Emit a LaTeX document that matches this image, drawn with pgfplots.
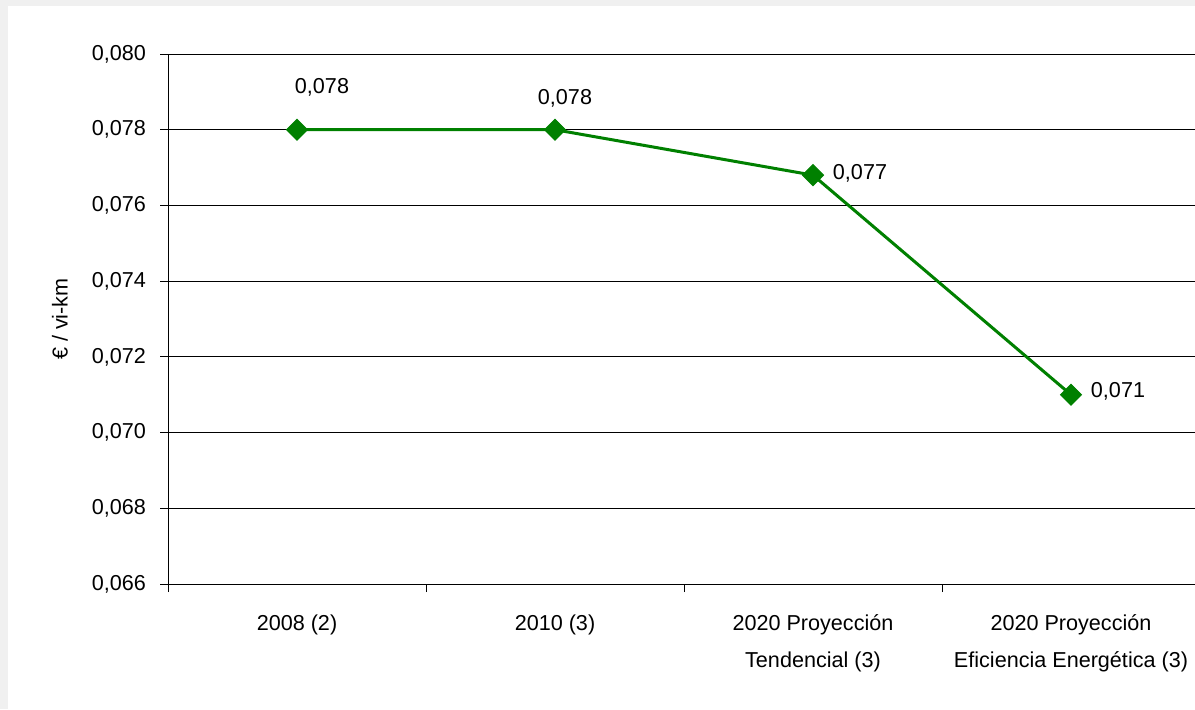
\documentclass[border=0pt]{standalone}
\usepackage{pgfplots}
\pgfplotsset{compat=1.18}
\usepackage{pgfplotstable}
\usepackage{fontspec}
\setmainfont{Liberation Sans}
\definecolor{serie}{RGB}{0,128,0}
\definecolor{marco}{RGB}{240,240,240}

\pgfplotstableread{
x y lab dx dy
1 0.0780 0,078 12.5 21
2 0.0780 0,078 5 15.5
3 0.0768 0,077 23.5 1
4 0.0710 0,071 23.5 1.5
}\costes

\begin{document}
\begin{tikzpicture}[font=\fontsize{10.8pt}{13pt}\selectfont]
    \fill[marco] (0,0) rectangle (597.5pt,354.5pt);
    \fill[white] (4pt,0) rectangle (597.5pt,351.5pt);
    \begin{axis}[
        at={(84pt,62.5pt)},
        anchor=south west,
        scale only axis,
        width=516pt,
        height=265pt,
        xmin=0.5, xmax=4.5,
        ymin=0.066, ymax=0.080,
        ytick={0.066,0.068,...,0.0801},
        xtick={0.5,1.5,...,4.5},
        xticklabels={},
        extra x ticks={1,2,3,4},
        extra x tick labels={
            2008 (2),
            2010 (3),
            2020 Proyección\\Tendencial (3),
            2020 Proyección\\Eficiencia Energética (3)
        },
        extra x tick style={major tick length=0pt},
        xticklabel style={align=center, font=\fontsize{10.8pt}{18.5pt}\selectfont, yshift=-12pt},
        yticklabel style={xshift=-3.5pt},
        ymajorgrids,
        grid style={black, line width=0.5pt},
        axis line style={black, line width=0.5pt},
        tick style={black, line width=0.5pt},
        major tick length=4pt,
        tick align=outside,
        axis x line*=bottom,
        axis y line*=left,
        /pgf/number format/.cd, use comma, fixed, fixed zerofill, precision=3, assume math mode=true,
        /pgfplots/.cd,
        scaled y ticks=false,
        ylabel={€ / vi-km},
        every axis y label/.style={at={(axis description cs:0,0.5)}, xshift=-54pt, rotate=90, anchor=center},
        clip=false,
    ]
        \addplot[
            serie, line width=1.5pt,
            mark=square*, mark size=3.7pt,
            mark options={rotate=45, fill=serie, draw=serie, line width=0.5pt},
            point meta=explicit symbolic,
            visualization depends on={\thisrow{dx}\as\dx},
            visualization depends on={\thisrow{dy}\as\dy},
            nodes near coords,
            every node near coord/.style={black, anchor=center, xshift=\dx pt, yshift=\dy pt, inner sep=0pt},
        ] table[x=x, y=y, meta=lab] {\costes};
    \end{axis}
    \pgfresetboundingbox
    \useasboundingbox (0,0) rectangle (597.5pt,354.5pt);
\end{tikzpicture}
\end{document}
